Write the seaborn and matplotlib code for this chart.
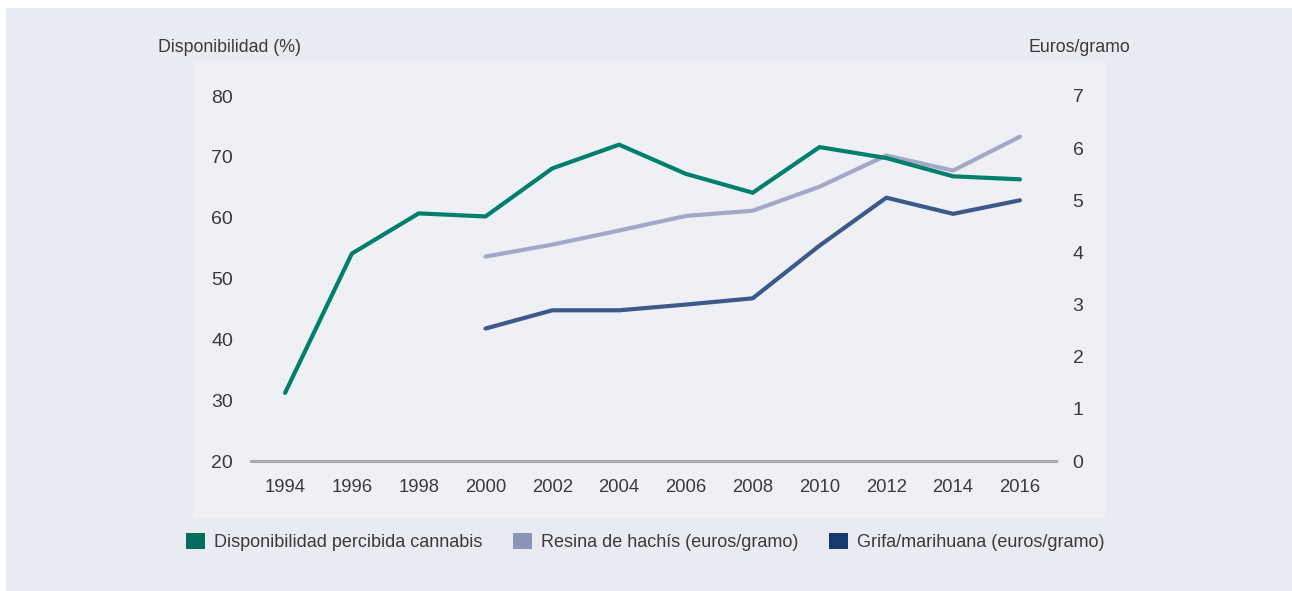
import matplotlib
matplotlib.use("Agg")
import matplotlib.pyplot as plt
from matplotlib.patches import Rectangle, Patch
import seaborn as sns
import pandas as pd

# data
years = [1994, 1996, 1998, 2000, 2002, 2004, 2006, 2008, 2010, 2012, 2014, 2016]
disponibilidad = [31.2, 54.1, 60.7, 60.2, 68.1, 72.0, 67.2, 64.1, 71.6, 69.8, 66.8, 66.3]
price_years = [2000, 2002, 2004, 2006, 2008, 2010, 2012, 2014, 2016]
resina = [3.92, 4.15, 4.42, 4.70, 4.80, 5.26, 5.86, 5.57, 6.22]
grifa = [2.54, 2.89, 2.89, 3.00, 3.12, 4.13, 5.05, 4.74, 5.00]

left_ticks = [20, 30, 40, 50, 60, 70, 80]
right_ticks = [0, 1, 2, 3, 4, 5, 6, 7]
labels = ["Disponibilidad percibida cannabis", "Resina de hachís (euros/gramo)",
          "Grifa/marihuana (euros/gramo)"]

GREEN = "#00806a"
RESIN = "#a4a8c6"
GRIFA = "#3c5988"
LEG_COLORS = ["#006e5a", "#8c95b8", "#163a6e"]
TXT = "#3a3a3a"

sns.set_theme(style="white")
plt.rcParams["font.family"] = ["Liberation Sans", "DejaVu Sans"]

W, H = 1292, 591
fig = plt.figure(figsize=(W / 100, H / 100), dpi=100, facecolor="white")


def px(x0, y0, x1, y1):
    # pixel box -> figure fraction rect
    return [x0 / W, 1 - y1 / H, (x1 - x0) / W, (y1 - y0) / H]


# backgrounds
fig.patches.append(Rectangle((6 / W, 0), 1 - 6 / W, 1 - 8 / H, transform=fig.transFigure,
                             facecolor="#e9ebf3", edgecolor="none", zorder=-2))
fig.patches.append(Rectangle((193 / W, 1 - 518 / H), (1105 - 193) / W, (518 - 60) / H,
                             transform=fig.transFigure, facecolor="#eef0f5",
                             edgecolor="none", zorder=-1))

ax = fig.add_axes(px(251, 96, 1056, 461))
ax.patch.set_visible(False)
ax2 = ax.twinx()
ax2.patch.set_visible(False)

df1 = pd.DataFrame({"year": years, "val": disponibilidad})
df2 = pd.DataFrame({"year": price_years, "resina": resina, "grifa": grifa})

sns.lineplot(data=df1, x="year", y="val", ax=ax, color=GREEN, linewidth=3.0,
             legend=False, zorder=3, clip_on=False)
sns.lineplot(data=df2, x="year", y="resina", ax=ax2, color=RESIN, linewidth=3.0,
             legend=False, zorder=2, clip_on=False)
sns.lineplot(data=df2, x="year", y="grifa", ax=ax2, color=GRIFA, linewidth=3.0,
             legend=False, zorder=2, clip_on=False)
ax.set_zorder(ax2.get_zorder() + 1)

ax.set_xlim(1992.98, 2017.08)
ax.set_ylim(20, 80)
ax2.set_ylim(0, 7)
ax.set_xticks(years)
ax.set_yticks(left_ticks)
ax2.set_yticks(right_ticks)

for a in (ax, ax2):
    for s in a.spines.values():
        s.set_visible(False)
    a.set_xlabel("")
    a.set_ylabel("")
ax.spines["bottom"].set_visible(True)
ax.spines["bottom"].set_color("#ababab")
ax.spines["bottom"].set_linewidth(2.2)

ax.tick_params(axis="x", length=0, pad=13, labelsize=13.3, labelcolor=TXT)
ax.tick_params(axis="y", length=0, pad=13, labelsize=14, labelcolor=TXT)
ax2.tick_params(axis="y", length=0, pad=12, labelsize=14, labelcolor=TXT)

fig.text(158 / W, 1 - 48 / H, "Disponibilidad (%)", ha="left", va="center",
         fontsize=12.8, color=TXT)
fig.text(1130 / W, 1 - 48 / H, "Euros/gramo", ha="right", va="center",
         fontsize=12.8, color=TXT)

handles = [Patch(facecolor=c, edgecolor="none") for c in LEG_COLORS]
fig.legend(handles, labels, loc="center left", bbox_to_anchor=(186 / W, 1 - 542 / H),
           ncol=3, frameon=False, fontsize=13, handlelength=1.05, handleheight=1.05,
           handletextpad=0.5, columnspacing=1.7, borderpad=0, borderaxespad=0,
           labelcolor=TXT)

fig.savefig("out.png", dpi=100, facecolor="white")
